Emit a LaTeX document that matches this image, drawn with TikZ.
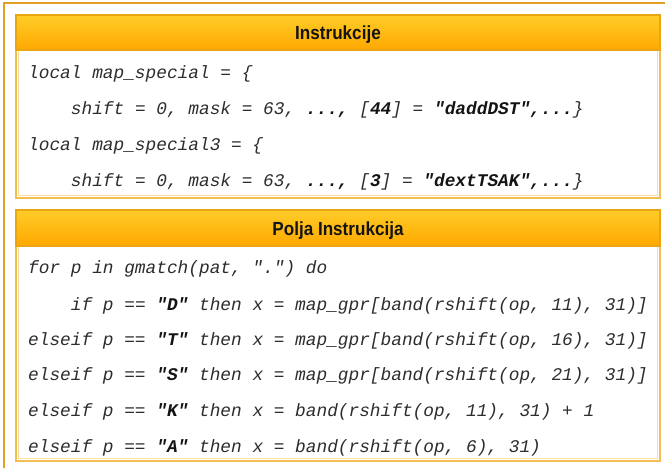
\documentclass[tikz,border=0pt]{standalone}
\usepackage{fontspec}
\setmainfont{Liberation Sans}
\setmonofont{Liberation Mono}
\newfontfamily\headfont[FakeStretch=0.9]{Liberation Sans}
\definecolor{frameclr}{RGB}{226,160,40}
\definecolor{boxedge}{RGB}{242,190,80}
\definecolor{boxinner}{RGB}{250,222,160}
\definecolor{hdtop}{RGB}{255,204,40}
\definecolor{hdbot}{RGB}{255,168,0}
\definecolor{hdedge}{RGB}{232,165,20}
\definecolor{ink}{RGB}{20,20,20}
\definecolor{codeink}{RGB}{45,45,45}
\tikzset{
  codeline/.style={anchor=base west, inner sep=0pt, text=codeink,
    font=\ttfamily\itshape\fontsize{17.8}{20}\selectfont},
  headtext/.style={anchor=base, inner sep=0pt, text=ink,
    font=\headfont\bfseries\fontsize{19}{21}\selectfont},
  panel/.style={draw=boxedge, line width=2.6pt, fill=white},
  panelinner/.style={draw=boxinner, line width=0.8pt},
  headbar/.style={top color=hdtop, bottom color=hdbot},
  headrule/.style={draw=hdedge, line width=1.6pt},
}
\newcommand{\B}[1]{\textcolor{ink}{\textbf{#1}}}
\begin{document}
\begin{tikzpicture}[x=1pt,y=-1pt]
\useasboundingbox (0,0) rectangle (665,468);
\fill[white] (0,0) rectangle (665,468);
% outer frame, open towards the right and the bottom
\draw[frameclr, line width=1.5pt] (4,468) -- (4,3) -- (665,3);

% panel 1
\draw[panel] (16,15) rectangle (660,198);
\draw[panelinner] (18.5,17.5) rectangle (657.5,195.5);
\shade[headbar] (16,15) rectangle (660,50);
\draw[headrule] (16,15) rectangle (660,50);
\node[headtext] (h1) at (338,40) {Instrukcije};
\node[codeline] (a1) at (28,79) {local map\_special = \{};
\node[codeline] (a2) at (28,115) {\ \ \ \ shift = 0, mask = 63, \B{...,} [\B{44}] = \B{"daddDST",...}\}};
\node[codeline] (a3) at (28,151) {local map\_special3 = \{};
\node[codeline] (a4) at (28,187) {\ \ \ \ shift = 0, mask = 63, \B{...,} [\B{3}] = \B{"dextTSAK",...}\}};

% panel 2
\draw[panel] (16,210) rectangle (660,461);
\draw[panelinner] (18.5,212.5) rectangle (657.5,458.5);
\shade[headbar] (16,210) rectangle (660,246);
\draw[headrule] (16,210) rectangle (660,246);
\node[headtext] (h2) at (338,236) {Polja Instrukcija};
\node[codeline] (b1) at (28,274) {for p in gmatch(pat, ".") do};
\node[codeline] (b2) at (28,310) {\ \ \ \ if p == \B{"D"} then x = map\_gpr[band(rshift(op, 11), 31)]};
\node[codeline] (b3) at (28,345) {elseif p == \B{"T"} then x = map\_gpr[band(rshift(op, 16), 31)]};
\node[codeline] (b4) at (28,380) {elseif p == \B{"S"} then x = map\_gpr[band(rshift(op, 21), 31)]};
\node[codeline] (b5) at (28,416) {elseif p == \B{"K"} then x = band(rshift(op, 11), 31) + 1};
\node[codeline] (b6) at (28,452) {elseif p == \B{"A"} then x = band(rshift(op, 6), 31)};
\end{tikzpicture}
\end{document}
